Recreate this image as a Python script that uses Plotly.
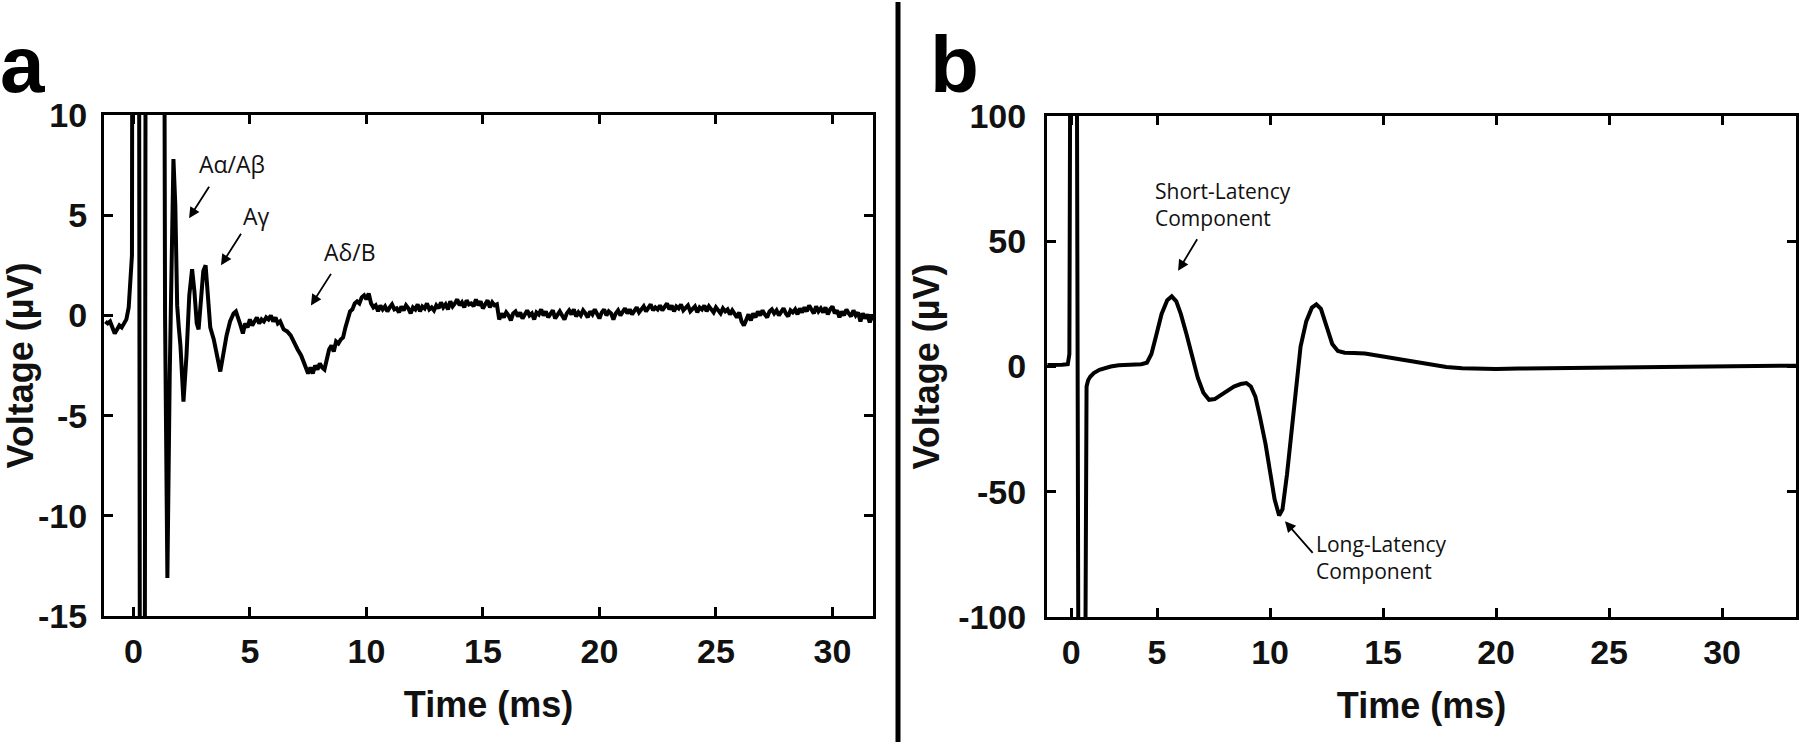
import plotly.graph_objects as go

# ---------------- Panel a: compound action potential (µV) ----------------
a_time = [-1.2, -1.1, -1.0, -0.9, -0.8, -0.7, -0.6, -0.5, -0.4, -0.3, -0.2, -0.12, -0.06,
          -0.02, 0.22, 0.3, 0.47, 0.55, 1.28, 1.36, 1.46, 1.56, 1.64, 1.72, 1.8, 1.88, 1.95,
          2.02, 2.15, 2.28, 2.4, 2.52, 2.62, 2.72, 2.8, 2.9, 3.0, 3.1, 3.2, 3.3, 3.45, 3.6,
          3.73, 3.85, 4.0, 4.15, 4.3, 4.4, 4.5, 4.6, 4.7, 4.8, 4.9, 5.0, 5.1, 5.2, 5.3, 5.4,
          5.5, 5.6, 5.7, 5.8, 5.9, 6.0, 6.1, 6.2, 6.3, 6.45, 6.6, 6.75, 6.9, 7.05, 7.2, 7.3,
          7.4, 7.5, 7.6, 7.7, 7.8, 7.9, 8.0, 8.1, 8.2, 8.3, 8.4, 8.5, 8.6, 8.7, 8.8, 8.9, 9.0,
          9.1, 9.2, 9.3, 9.4, 9.5, 9.6, 9.7, 9.8, 9.9, 10.0, 10.1, 10.2, 10.3, 10.4, 10.5,
          10.6, 10.7, 10.8, 10.9, 11.0, 11.1, 11.2, 11.3, 11.4, 11.5,
          11.6, 11.7, 11.8, 11.9, 12.0, 12.1, 12.2, 12.3, 12.4, 12.5,
          12.6, 12.7, 12.8, 12.9, 13.0, 13.1, 13.2, 13.3, 13.4, 13.5,
          13.6, 13.7, 13.8, 13.9, 14.0, 14.1, 14.2, 14.3, 14.4, 14.5,
          14.6, 14.7, 14.8, 14.9, 15.0, 15.1, 15.2, 15.3, 15.4, 15.5,
          15.6, 15.7, 15.8, 15.9, 16.0, 16.1, 16.2, 16.3, 16.4, 16.5,
          16.6, 16.7, 16.8, 16.9, 17.0, 17.1, 17.2, 17.3, 17.4, 17.5,
          17.6, 17.7, 17.8, 17.9, 18.0, 18.1, 18.2, 18.3, 18.4, 18.5,
          18.6, 18.7, 18.8, 18.9, 19.0, 19.1, 19.2, 19.3, 19.4, 19.5,
          19.6, 19.7, 19.8, 19.9, 20.0, 20.1, 20.2, 20.3, 20.4, 20.5,
          20.6, 20.7, 20.8, 20.9, 21.0, 21.1, 21.2, 21.3, 21.4, 21.5,
          21.6, 21.7, 21.8, 21.9, 22.0, 22.1, 22.2, 22.3, 22.4, 22.5,
          22.6, 22.7, 22.8, 22.9, 23.0, 23.1, 23.2, 23.3, 23.4, 23.5,
          23.6, 23.7, 23.8, 23.9, 24.0, 24.1, 24.2, 24.3, 24.4, 24.5,
          24.6, 24.7, 24.8, 24.9, 25.0, 25.1, 25.2, 25.3, 25.4, 25.5,
          25.6, 25.7, 25.8, 25.9, 26.0, 26.1, 26.2, 26.3, 26.4, 26.5,
          26.6, 26.7, 26.8, 26.9, 27.0, 27.1, 27.2, 27.3, 27.4, 27.5,
          27.6, 27.7, 27.8, 27.9, 28.0, 28.1, 28.2, 28.3, 28.4, 28.5,
          28.6, 28.7, 28.8, 28.9, 29.0, 29.1, 29.2, 29.3, 29.4, 29.5,
          29.6, 29.7, 29.8, 29.9, 30.0, 30.1, 30.2, 30.3, 30.4, 30.5,
          30.6, 30.7, 30.8, 30.9, 31.0, 31.1, 31.2, 31.3, 31.4, 31.5,
          31.6, 31.7, 31.8]
a_volt = [-0.3, -0.4, -0.3, -0.6, -0.9, -0.7, -0.5, -0.6, -0.4, -0.2, 0.4, 2.4, 3.0,
          40, 40, -40, -40, 40, 40, 0, -13.1, -3, 4, 7.8, 5.5, 0.5, -0.6,
          -1.5, -4.3, -2.0, 1.0, 2.3, 1.2, -0.4, -0.7, 0.6, 2.2, 2.5, 0.8, -0.6, -1.2, -2.2,
          -2.8, -2.0, -1.0, -0.3, 0.1, 0.2, -0.1, -0.5, -0.9, -0.4, -0.6, -0.2, -0.5, -0.3, -0.1, -0.4,
          -0.2, -0.3, -0.1, -0.2, 0.0, -0.3, -0.1, -0.4, -0.3, -0.7, -0.8, -1.0, -1.4, -1.7, -2.0, -2.3,
          -2.6, -2.9, -2.6, -2.9, -2.5, -2.7, -2.4, -2.6, -2.7, -2.1, -1.7, -1.5, -1.8, -1.3, -1.4, -1.2, -1.1,
          -0.6, -0.2, 0.2, 0.3, 0.6, 0.7, 0.6, 0.9, 1.0, 0.8, 1.1, 0.6, 0.4, 0.5, 0.2,
          0.5, 0.3, 0.45, 0.2, 0.4, 0.55, 0.3, 0.35, 0.15, 0.45,
          0.25, 0.5, 0.35, 0.1, 0.4, 0.3, 0.55, 0.2, 0.45, 0.35,
          0.6, 0.3, 0.4, 0.25, 0.5, 0.35, 0.65, 0.4, 0.55, 0.3,
          0.7, 0.45, 0.6, 0.8, 0.5, 0.65, 0.4, 0.75, 0.55, 0.6,
          0.45, 0.8, 0.5, 0.7, 0.35, 0.6, 0.75, 0.4, 0.65, 0.5,
          0.55, -0.2, 0.1, -0.1, 0.15, 0.0, -0.25, 0.1, 0.2, -0.05,
          0.15, -0.15, 0.05, 0.25, 0.0, 0.1, -0.2, 0.15, 0.05, 0.3,
          0.0, 0.2, -0.1, 0.1, 0.25, -0.15, 0.05, 0.2, 0.0, -0.2,
          0.1, 0.25, 0.05, 0.3, -0.05, 0.15, 0.0, 0.25, 0.1, -0.1,
          0.2, 0.05, 0.3, 0.1, -0.15, 0.15, 0.3, 0.0, 0.2, 0.1,
          -0.2, 0.1, 0.25, 0.0, 0.15, 0.35, 0.1, 0.3, 0.05, 0.25,
          0.4, 0.15, 0.3, 0.45, 0.2, 0.35, 0.55, 0.25, 0.4, 0.3,
          0.5, 0.25, 0.45, 0.6, 0.3, 0.5, 0.2, 0.45, 0.35, 0.55,
          0.25, 0.4, 0.5, 0.2, 0.35, 0.45, 0.15, 0.4, 0.3, 0.5,
          0.2, 0.45, 0.3, 0.15, 0.4, 0.25, 0.1, 0.35, 0.2, 0.3,
          0.05, 0.25, 0.1, -0.1, 0.15, -0.3, -0.5, -0.2, 0.05, -0.25,
          0.1, -0.1, 0.2, 0.0, 0.25, 0.05, -0.1, 0.2, 0.3, 0.1,
          0.25, 0.0, 0.2, 0.35, 0.1, -0.05, 0.25, 0.15, 0.3, 0.05,
          0.35, 0.15, 0.4, 0.2, 0.5, 0.25, 0.1, 0.45, 0.2, 0.35,
          0.15, 0.4, 0.05, 0.3, 0.45, 0.1, 0.25, -0.1, 0.2, 0.0,
          0.3, 0.1, -0.05, 0.25, 0.0, 0.15, -0.3, 0.1, -0.15, 0.05,
          -0.35, 0.0, -0.2]

a_xtick_vals = [0, 5, 10, 15, 20, 25, 30]
a_xtick_text = ["0", "5", "10", "15", "20", "25", "30"]
a_ytick_vals = [-15, -10, -5, 0, 5, 10]
a_ytick_text = ["-15", "-10", "-5", "0", "5", "10"]

# ---------------- Panel b: evoked response (µV) ----------------
b_time = [0.15, 0.5, 0.8, 1.05, 1.12, 1.16, 1.45, 1.52, 1.82, 1.88, 1.95, 2.05, 2.2, 2.45,
          2.7, 2.95, 3.3, 3.8, 4.3, 4.55, 4.75, 4.95, 5.2, 5.45, 5.65, 5.85, 6.05, 6.3, 6.55,
          6.8, 7.05, 7.3, 7.55, 7.8, 8.1, 8.4, 8.7, 8.95, 9.15, 9.35, 9.55, 9.8, 10.0, 10.2,
          10.4, 10.55, 10.75, 10.95, 11.15, 11.35, 11.6, 11.85, 12.05, 12.25, 12.5, 12.75,
          13.0, 13.3, 13.7, 14.2, 14.8, 15.5, 16.2, 17.0, 17.8, 18.5, 19.2, 20.0, 21.0, 22.5,
          24.0, 25.5, 27.0, 28.5, 30.0, 31.5, 33.3]
b_volt = [0.6, 0.5, 0.7, 0.9, 5, 130, 130, -130, -130, -8, -5.5, -4, -2.6, -1.3,
          -0.5, 0, 0.5, 0.8, 0.9, 1.5, 5, 12, 21, 26.5, 28, 26, 21, 13, 4,
          -4.5, -10.5, -13.3, -13, -11.5, -9.5, -8, -7, -6.6, -8, -12, -20, -31, -42, -53,
          -59.5, -57, -43, -25, -6, 8, 18, 23.5, 24.8, 23, 16, 9,
          6.2, 5.5, 5.4, 5.2, 4.3, 3.2, 2.0, 0.8, -0.2, -0.7, -0.9, -1.0, -0.8, -0.6,
          -0.4, -0.3, -0.3, -0.2, 0.0, 0.2, 0.3]

b_xtick_vals = [1.2, 5, 10, 15, 20, 25, 30]
b_xtick_text = ["0", "5", "10", "15", "20", "25", "30"]
b_ytick_vals = [-100, -50, 0, 50, 100]
b_ytick_text = ["-100", "-50", "0", "50", "100"]

W, H = 1800, 744
FONT = "Liberation Sans"
NOTE_FONT = "Open Sans"


def px(x):
    return x / W


def py(y):
    return 1 - y / H


fig = go.Figure()
fig.add_trace(go.Scatter(x=a_time, y=a_volt, mode="lines",
                         line=dict(color="black", width=4), xaxis="x", yaxis="y",
                         showlegend=False, hoverinfo="skip"))
fig.add_trace(go.Scatter(x=b_time, y=b_volt, mode="lines",
                         line=dict(color="black", width=4), xaxis="x2", yaxis="y2",
                         showlegend=False, hoverinfo="skip"))

axis_common = dict(showline=True, linecolor="black", linewidth=3, mirror="ticks",
                   ticks="inside", ticklen=9, tickwidth=3, tickcolor="black",
                   showgrid=False, zeroline=False, fixedrange=True, automargin=False,
                   tickfont=dict(family=FONT, size=34, color="#111111", weight="bold"))

title_font = dict(family=FONT, size=36, color="#111111", weight="bold")

fig.update_layout(
    template="none",
    width=W, height=H, margin=dict(l=0, r=0, t=0, b=0, autoexpand=False),
    paper_bgcolor="white", plot_bgcolor="white",
    xaxis=dict(domain=[px(104), px(873)], anchor="y", range=[-1.26, 31.74],
               tickmode="array", tickvals=a_xtick_vals, ticktext=a_xtick_text,
               ticklabelstandoff=3,
               title=dict(text="Time (ms)", font=title_font, standoff=24), **axis_common),
    yaxis=dict(domain=[py(616), py(115)], anchor="x", range=[-15, 10],
               tickmode="array", tickvals=a_ytick_vals, ticktext=a_ytick_text,
               ticklabelstandoff=7,
               title=dict(text="Voltage (µV)", font=title_font, standoff=10), **axis_common),
    xaxis2=dict(domain=[px(1047), px(1796)], anchor="y2", range=[0.13, 33.27],
                tickmode="array", tickvals=b_xtick_vals, ticktext=b_xtick_text,
                ticklabelstandoff=3,
                title=dict(text="Time (ms)", font=title_font, standoff=24), **axis_common),
    yaxis2=dict(domain=[py(617), py(116)], anchor="x2", range=[-100, 100],
                tickmode="array", tickvals=b_ytick_vals, ticktext=b_ytick_text,
                ticklabelstandoff=11,
                title=dict(text="Voltage (µV)", font=title_font, standoff=8), **axis_common),
)

# divider between panels
fig.add_shape(type="line", xref="paper", yref="paper", x0=px(898), x1=px(898),
              y0=py(2), y1=py(742), line=dict(color="black", width=5))

note_font_a = dict(family=NOTE_FONT, size=23, color="#111111")
note_font_b = dict(family=NOTE_FONT, size=21, color="#111111")
letter_font = dict(family=FONT, size=80, color="black", weight="bold")

annotations = [
    # panel letters
    dict(text="a", xref="paper", yref="paper", x=px(-2), y=py(64), xanchor="left",
         yanchor="middle", showarrow=False, font=letter_font),
    dict(text="b", xref="paper", yref="paper", x=px(928), y=py(64), xanchor="left",
         yanchor="middle", showarrow=False, font=letter_font),
    # panel a labels
    dict(text="Aα/Aβ", xref="paper", yref="paper", x=px(232), y=py(164), xanchor="center",
         yanchor="middle", showarrow=False, font=note_font_a),
    dict(text="Aγ", xref="paper", yref="paper", x=px(256), y=py(216), xanchor="center",
         yanchor="middle", showarrow=False, font=note_font_a),
    dict(text="Aδ/B", xref="paper", yref="paper", x=px(350), y=py(252), xanchor="center",
         yanchor="middle", showarrow=False, font=note_font_a),
    # panel b labels
    dict(text="Short-Latency<br>Component", xref="paper", yref="paper", x=px(1153), y=py(175),
         xanchor="left", yanchor="top", align="left", showarrow=False, font=note_font_b),
    dict(text="Long-Latency<br>Component", xref="paper", yref="paper", x=px(1314), y=py(528),
         xanchor="left", yanchor="top", align="left", showarrow=False, font=note_font_b),
]

arrow_style = dict(showarrow=True, arrowhead=2, arrowsize=1.2, arrowwidth=1.8,
                   arrowcolor="black", text="")
arrows = [
    dict(x=2.39, y=4.85, xref="x", yref="y", ax=21, ay=-33),
    dict(x=3.76, y=2.5, xref="x", yref="y", ax=21, ay=-33),
    dict(x=7.62, y=0.5, xref="x", yref="y", ax=21, ay=-33),
    dict(x=5.93, y=38.2, xref="x2", yref="y2", ax=20, ay=-33),
    dict(x=10.66, y=-61.8, xref="x2", yref="y2", ax=29, ay=33),
]
for a in arrows:
    a.update(arrow_style)
    annotations.append(a)

fig.update_layout(annotations=annotations)

fig.write_html("out.html", config={"displayModeBar": False},
               post_script="document.body.style.margin='0';document.body.style.overflow='hidden';")
